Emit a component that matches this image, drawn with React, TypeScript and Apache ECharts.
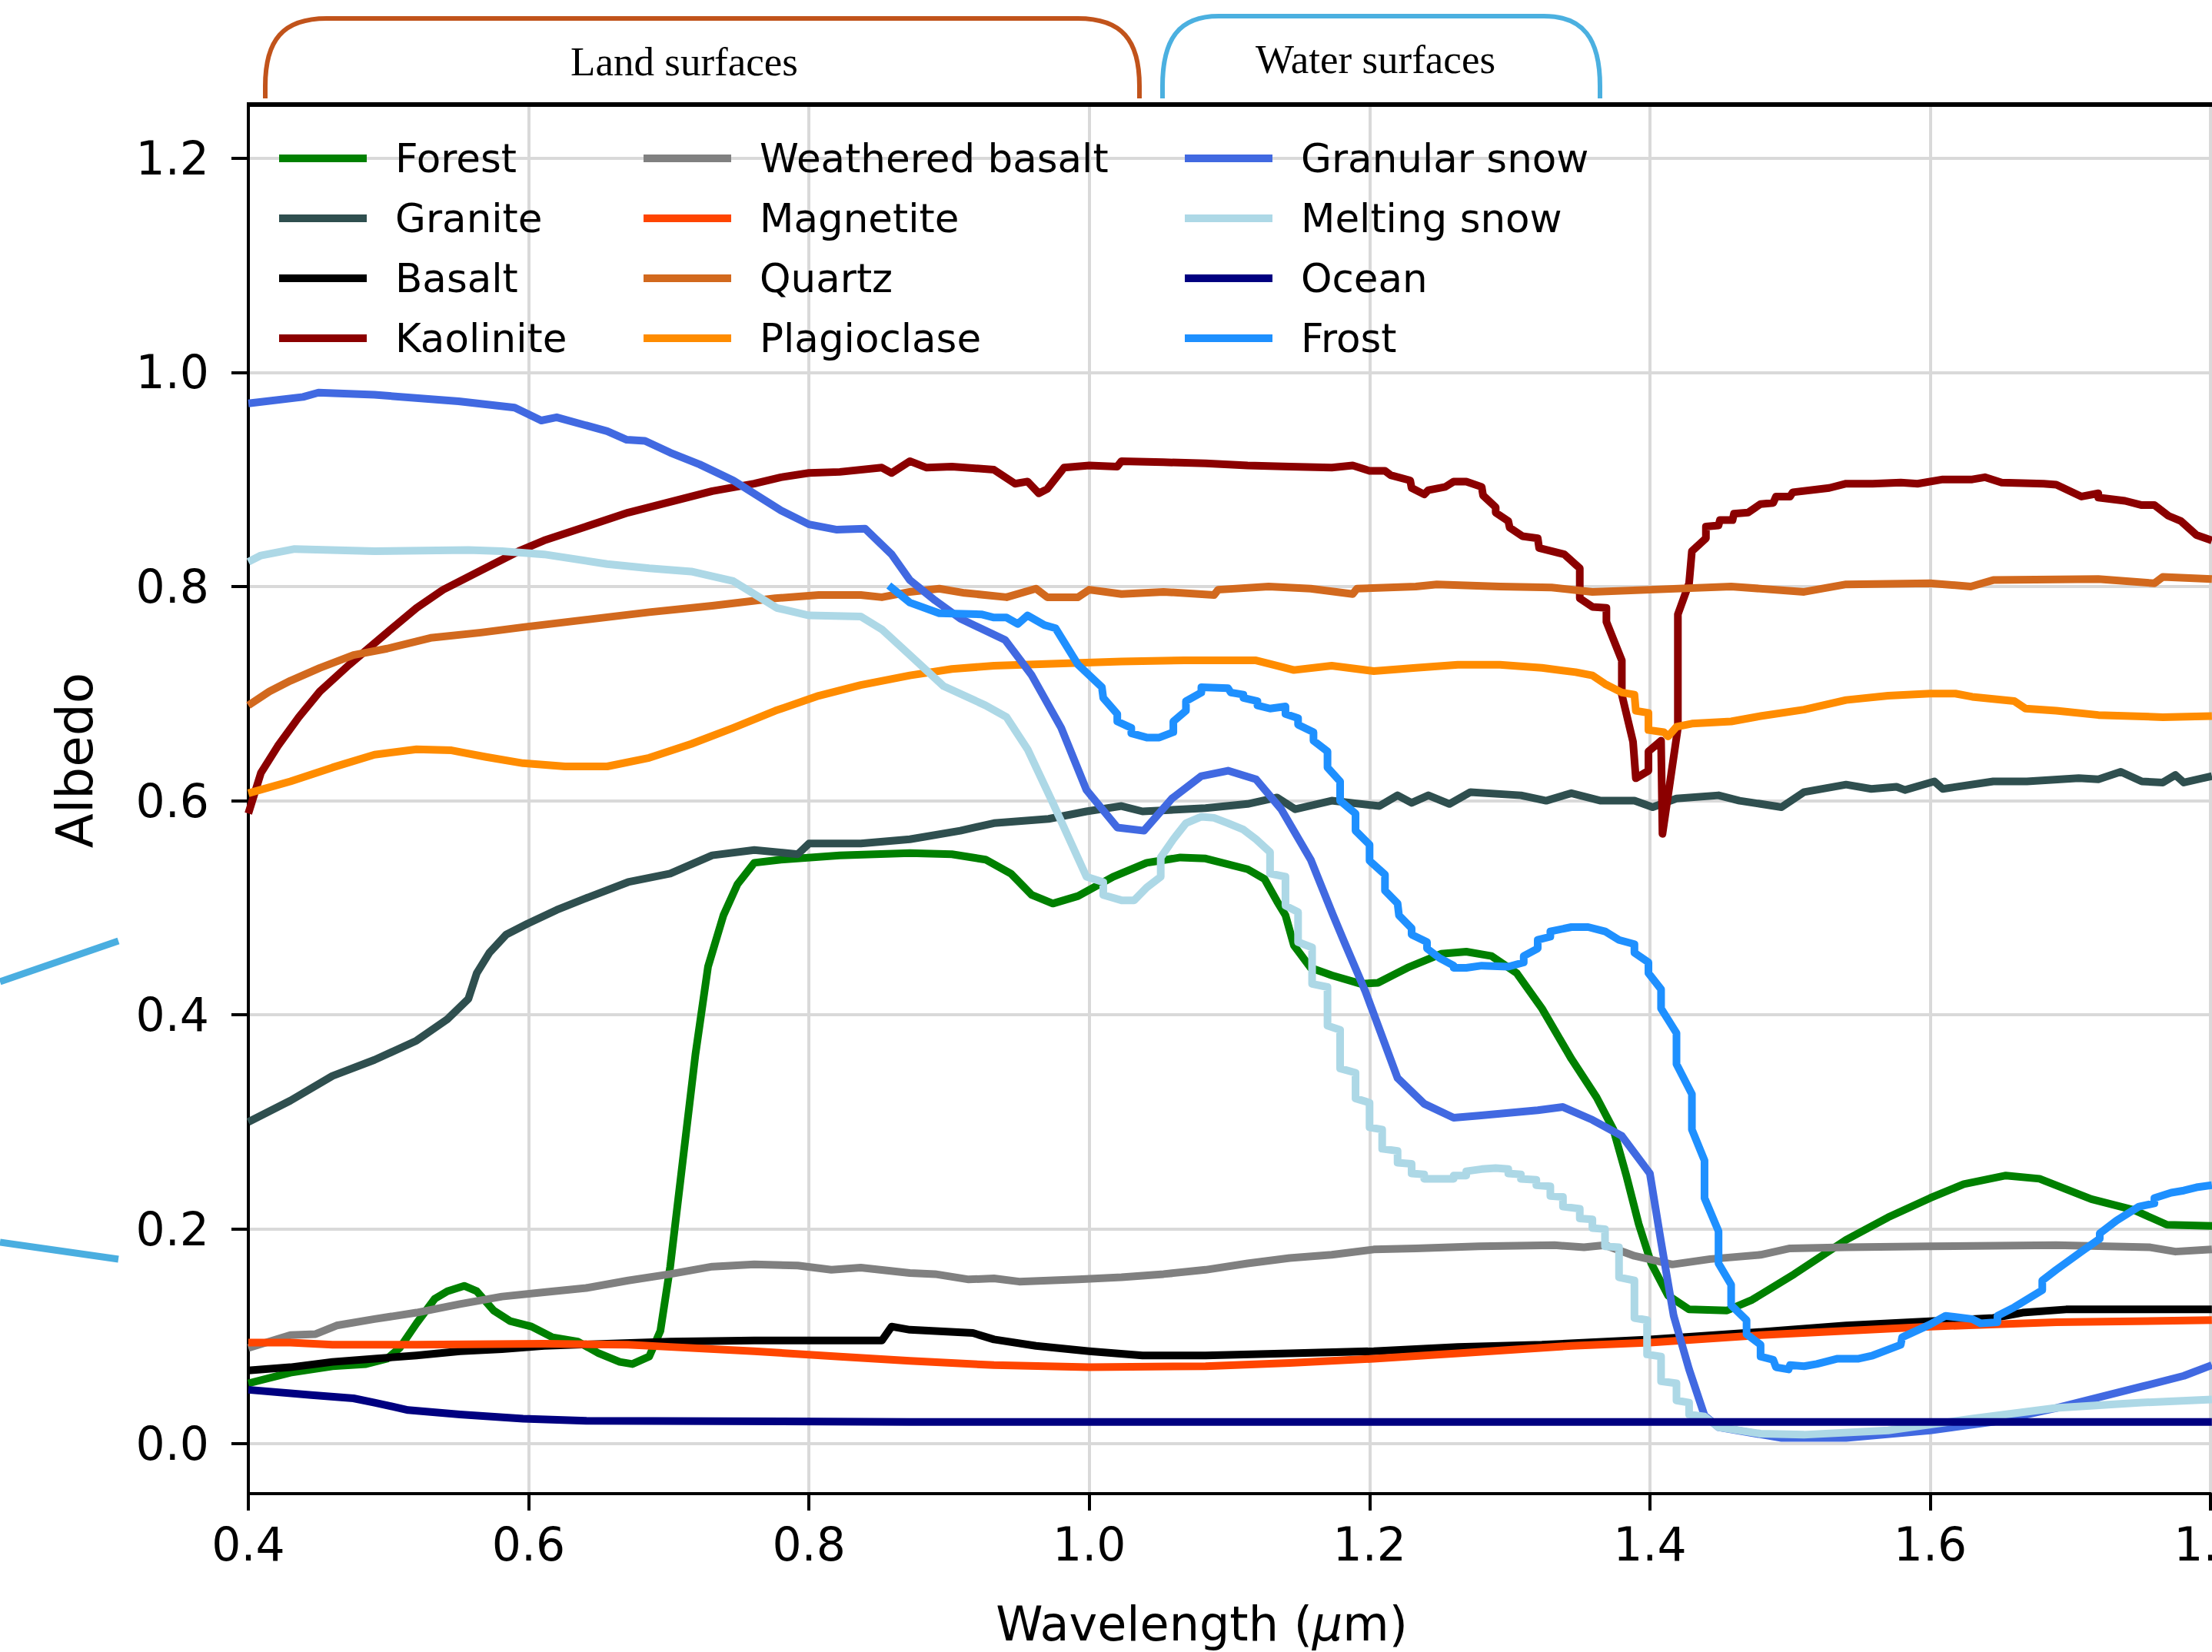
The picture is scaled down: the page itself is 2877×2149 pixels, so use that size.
import React, { useEffect, useRef } from 'react';
import * as echarts from 'echarts';

const W = 2877;
const H = 2149;

// ---------------- data (wavelength µm, albedo) ----------------
const forest = [[0.400,0.056],[0.430,0.066],[0.460,0.072],[0.484,0.074],[0.499,0.079],[0.508,0.089],[0.520,0.112],[0.533,0.135],[0.542,0.142],[0.554,0.147],[0.563,0.142],[0.575,0.124],[0.587,0.114],[0.602,0.109],[0.617,0.099],[0.635,0.095],[0.650,0.084],[0.665,0.076],[0.674,0.074],[0.686,0.081],[0.694,0.105],[0.701,0.165],[0.710,0.264],[0.719,0.363],[0.728,0.445],[0.739,0.493],[0.749,0.522],[0.761,0.542],[0.780,0.545],[0.822,0.549],[0.872,0.551],[0.902,0.550],[0.926,0.545],[0.944,0.532],[0.959,0.512],[0.974,0.504],[0.992,0.511],[1.017,0.529],[1.041,0.542],[1.065,0.547],[1.083,0.546],[1.113,0.536],[1.125,0.527],[1.134,0.506],[1.140,0.493],[1.146,0.465],[1.158,0.444],[1.173,0.437],[1.194,0.429],[1.206,0.430],[1.227,0.444],[1.251,0.457],[1.269,0.459],[1.287,0.455],[1.305,0.439],[1.323,0.406],[1.344,0.359],[1.362,0.323],[1.374,0.293],[1.383,0.251],[1.392,0.205],[1.401,0.168],[1.413,0.138],[1.428,0.125],[1.455,0.124],[1.473,0.134],[1.503,0.158],[1.540,0.190],[1.570,0.211],[1.600,0.229],[1.624,0.242],[1.654,0.250],[1.678,0.247],[1.715,0.228],[1.745,0.218],[1.769,0.204],[1.802,0.203]];

const granite = [[0.400,0.300],[0.430,0.320],[0.460,0.343],[0.490,0.358],[0.520,0.376],[0.542,0.396],[0.557,0.415],[0.563,0.439],[0.572,0.458],[0.584,0.475],[0.599,0.485],[0.620,0.498],[0.641,0.509],[0.671,0.524],[0.701,0.532],[0.731,0.549],[0.761,0.554],[0.792,0.550],[0.800,0.560],[0.837,0.560],[0.872,0.564],[0.908,0.572],[0.932,0.579],[0.971,0.583],[0.998,0.590],[1.023,0.595],[1.038,0.590],[1.083,0.593],[1.113,0.597],[1.134,0.603],[1.147,0.592],[1.173,0.600],[1.207,0.595],[1.220,0.605],[1.230,0.598],[1.242,0.605],[1.257,0.597],[1.272,0.608],[1.308,0.605],[1.326,0.600],[1.344,0.607],[1.365,0.600],[1.389,0.600],[1.402,0.594],[1.419,0.602],[1.449,0.605],[1.464,0.600],[1.494,0.594],[1.510,0.608],[1.540,0.615],[1.558,0.611],[1.576,0.613],[1.582,0.610],[1.603,0.618],[1.609,0.611],[1.645,0.618],[1.669,0.618],[1.706,0.621],[1.720,0.620],[1.736,0.627],[1.751,0.618],[1.766,0.617],[1.775,0.624],[1.781,0.617],[1.801,0.623]];

const basalt = [[0.400,0.068],[0.430,0.071],[0.460,0.076],[0.490,0.079],[0.520,0.082],[0.551,0.086],[0.581,0.088],[0.611,0.091],[0.656,0.093],[0.701,0.095],[0.761,0.096],[0.807,0.096],[0.852,0.096],[0.859,0.109],[0.872,0.106],[0.917,0.103],[0.932,0.097],[0.962,0.091],[1.000,0.086],[1.038,0.082],[1.083,0.082],[1.143,0.084],[1.203,0.086],[1.263,0.090],[1.323,0.092],[1.400,0.097],[1.479,0.104],[1.540,0.110],[1.600,0.114],[1.645,0.117],[1.666,0.122],[1.697,0.125],[1.751,0.125],[1.801,0.125]];

const kaolinite = [[0.400,0.588],[0.409,0.626],[0.421,0.651],[0.436,0.678],[0.451,0.702],[0.472,0.727],[0.499,0.757],[0.520,0.780],[0.539,0.797],[0.566,0.815],[0.593,0.833],[0.611,0.843],[0.641,0.856],[0.671,0.869],[0.701,0.879],[0.731,0.889],[0.761,0.896],[0.780,0.902],[0.800,0.906],[0.822,0.907],[0.852,0.911],[0.859,0.906],[0.872,0.917],[0.884,0.911],[0.902,0.912],[0.932,0.909],[0.947,0.896],[0.956,0.898],[0.964,0.887],[0.970,0.891],[0.982,0.911],[1.000,0.913],[1.020,0.912],[1.023,0.917],[1.053,0.916],[1.083,0.915],[1.113,0.913],[1.143,0.912],[1.173,0.911],[1.188,0.913],[1.200,0.908],[1.211,0.908],[1.215,0.904],[1.229,0.899],[1.230,0.892],[1.239,0.886],[1.242,0.890],[1.254,0.893],[1.260,0.898],[1.269,0.898],[1.280,0.893],[1.281,0.885],[1.290,0.874],[1.290,0.869],[1.299,0.861],[1.300,0.855],[1.309,0.847],[1.320,0.845],[1.321,0.836],[1.339,0.830],[1.350,0.817],[1.350,0.789],[1.359,0.781],[1.369,0.780],[1.369,0.767],[1.380,0.731],[1.380,0.699],[1.388,0.655],[1.390,0.621],[1.399,0.628],[1.399,0.646],[1.408,0.656],[1.409,0.569],[1.420,0.668],[1.420,0.774],[1.428,0.803],[1.430,0.833],[1.440,0.845],[1.440,0.856],[1.449,0.857],[1.450,0.862],[1.459,0.862],[1.460,0.868],[1.470,0.869],[1.479,0.877],[1.488,0.878],[1.490,0.884],[1.500,0.884],[1.502,0.888],[1.528,0.892],[1.540,0.896],[1.559,0.896],[1.579,0.897],[1.591,0.896],[1.609,0.900],[1.630,0.900],[1.639,0.902],[1.651,0.897],[1.681,0.896],[1.690,0.895],[1.708,0.884],[1.720,0.887],[1.720,0.883],[1.739,0.880],[1.751,0.876],[1.760,0.876],[1.770,0.866],[1.779,0.861],[1.790,0.848],[1.801,0.843]];

const weatheredBasalt = [[0.400,0.089],[0.430,0.101],[0.448,0.102],[0.463,0.110],[0.490,0.116],[0.520,0.122],[0.551,0.130],[0.581,0.137],[0.611,0.141],[0.641,0.145],[0.671,0.152],[0.701,0.158],[0.731,0.165],[0.761,0.167],[0.792,0.166],[0.816,0.162],[0.837,0.164],[0.872,0.159],[0.890,0.158],[0.914,0.153],[0.932,0.154],[0.950,0.151],[0.992,0.153],[1.023,0.155],[1.053,0.158],[1.083,0.162],[1.113,0.168],[1.143,0.173],[1.173,0.176],[1.203,0.181],[1.233,0.182],[1.278,0.184],[1.332,0.185],[1.353,0.183],[1.368,0.185],[1.389,0.175],[1.416,0.167],[1.443,0.172],[1.479,0.176],[1.500,0.182],[1.540,0.183],[1.600,0.184],[1.690,0.185],[1.757,0.183],[1.775,0.179],[1.801,0.181]];

const magnetite = [[0.400,0.094],[0.430,0.094],[0.460,0.092],[0.520,0.092],[0.611,0.093],[0.671,0.092],[0.701,0.090],[0.761,0.086],[0.822,0.081],[0.872,0.077],[0.932,0.073],[1.000,0.071],[1.083,0.072],[1.143,0.075],[1.203,0.079],[1.263,0.084],[1.344,0.091],[1.400,0.094],[1.479,0.101],[1.600,0.109],[1.690,0.113],[1.801,0.115]];

const quartz = [[0.400,0.689],[0.415,0.702],[0.430,0.712],[0.451,0.724],[0.475,0.736],[0.499,0.742],[0.530,0.752],[0.566,0.757],[0.596,0.762],[0.641,0.769],[0.686,0.776],[0.731,0.782],[0.776,0.789],[0.807,0.792],[0.837,0.792],[0.852,0.790],[0.872,0.795],[0.893,0.798],[0.911,0.794],[0.941,0.790],[0.962,0.798],[0.970,0.790],[0.992,0.790],[1.000,0.797],[1.023,0.793],[1.053,0.795],[1.089,0.792],[1.092,0.797],[1.128,0.800],[1.158,0.798],[1.188,0.793],[1.191,0.798],[1.233,0.800],[1.248,0.802],[1.293,0.800],[1.330,0.799],[1.359,0.795],[1.400,0.797],[1.458,0.800],[1.510,0.795],[1.540,0.802],[1.600,0.803],[1.629,0.800],[1.645,0.806],[1.720,0.807],[1.760,0.803],[1.766,0.809],[1.801,0.807]];

const plagioclase = [[0.400,0.607],[0.430,0.618],[0.460,0.631],[0.490,0.643],[0.520,0.648],[0.545,0.647],[0.569,0.641],[0.596,0.635],[0.626,0.632],[0.656,0.632],[0.686,0.640],[0.716,0.653],[0.746,0.668],[0.776,0.684],[0.807,0.698],[0.837,0.708],[0.872,0.717],[0.902,0.723],[0.932,0.726],[0.977,0.728],[1.023,0.730],[1.068,0.731],[1.119,0.731],[1.131,0.727],[1.146,0.722],[1.173,0.726],[1.203,0.721],[1.233,0.724],[1.263,0.727],[1.293,0.727],[1.323,0.724],[1.347,0.720],[1.359,0.717],[1.368,0.709],[1.380,0.701],[1.389,0.699],[1.390,0.684],[1.399,0.682],[1.399,0.666],[1.410,0.664],[1.413,0.660],[1.419,0.669],[1.430,0.672],[1.458,0.674],[1.479,0.679],[1.510,0.685],[1.540,0.694],[1.570,0.698],[1.600,0.700],[1.618,0.700],[1.630,0.697],[1.660,0.693],[1.668,0.686],[1.690,0.684],[1.720,0.680],[1.766,0.678],[1.801,0.679]];

const granularSnow = [[0.400,0.971],[0.439,0.977],[0.450,0.981],[0.490,0.979],[0.550,0.973],[0.590,0.967],[0.609,0.955],[0.620,0.958],[0.656,0.945],[0.670,0.937],[0.683,0.936],[0.701,0.925],[0.722,0.914],[0.746,0.899],[0.780,0.871],[0.800,0.858],[0.820,0.853],[0.840,0.854],[0.859,0.830],[0.872,0.806],[0.890,0.787],[0.908,0.770],[0.940,0.750],[0.959,0.717],[0.980,0.668],[0.998,0.610],[1.020,0.575],[1.039,0.572],[1.059,0.602],[1.080,0.623],[1.099,0.628],[1.119,0.620],[1.137,0.592],[1.158,0.545],[1.174,0.493],[1.182,0.468],[1.197,0.422],[1.220,0.341],[1.239,0.317],[1.260,0.304],[1.278,0.306],[1.320,0.311],[1.338,0.314],[1.359,0.302],[1.380,0.287],[1.400,0.252],[1.408,0.188],[1.417,0.119],[1.428,0.069],[1.439,0.026],[1.449,0.015],[1.494,0.005],[1.540,0.005],[1.600,0.012],[1.645,0.020],[1.690,0.033],[1.751,0.053],[1.781,0.063],[1.801,0.073]];

const meltingSnow = [[0.400,0.823],[0.409,0.829],[0.433,0.835],[0.490,0.833],[0.557,0.834],[0.581,0.833],[0.611,0.830],[0.656,0.821],[0.686,0.817],[0.716,0.814],[0.746,0.805],[0.777,0.780],[0.800,0.773],[0.837,0.772],[0.852,0.760],[0.872,0.736],[0.896,0.707],[0.926,0.689],[0.941,0.678],[0.956,0.648],[0.974,0.598],[0.998,0.529],[1.010,0.524],[1.010,0.512],[1.023,0.507],[1.032,0.507],[1.041,0.519],[1.051,0.529],[1.051,0.547],[1.060,0.564],[1.069,0.579],[1.080,0.585],[1.089,0.584],[1.099,0.579],[1.110,0.573],[1.119,0.564],[1.129,0.552],[1.129,0.532],[1.140,0.529],[1.140,0.502],[1.149,0.496],[1.149,0.468],[1.159,0.463],[1.159,0.429],[1.170,0.426],[1.170,0.390],[1.179,0.386],[1.179,0.350],[1.190,0.346],[1.190,0.322],[1.200,0.318],[1.200,0.295],[1.209,0.293],[1.209,0.275],[1.220,0.273],[1.220,0.262],[1.230,0.261],[1.230,0.252],[1.239,0.251],[1.239,0.247],[1.260,0.247],[1.260,0.250],[1.269,0.250],[1.269,0.254],[1.280,0.256],[1.290,0.257],[1.299,0.256],[1.299,0.252],[1.308,0.251],[1.308,0.247],[1.319,0.246],[1.319,0.241],[1.329,0.240],[1.329,0.231],[1.338,0.230],[1.338,0.221],[1.350,0.219],[1.350,0.210],[1.359,0.209],[1.359,0.201],[1.368,0.200],[1.368,0.184],[1.378,0.183],[1.378,0.155],[1.389,0.152],[1.389,0.117],[1.398,0.115],[1.398,0.083],[1.408,0.081],[1.408,0.058],[1.419,0.056],[1.419,0.040],[1.428,0.038],[1.428,0.027],[1.439,0.025],[1.449,0.015],[1.479,0.009],[1.510,0.008],[1.570,0.012],[1.630,0.023],[1.690,0.033],[1.751,0.038],[1.801,0.041]];

const ocean = [[0.400,0.050],[0.445,0.045],[0.475,0.042],[0.490,0.038],[0.514,0.031],[0.551,0.027],[0.596,0.023],[0.641,0.021],[0.872,0.020],[1.400,0.020],[1.801,0.020]];

const frost = [[0.857,0.801],[0.872,0.785],[0.893,0.775],[0.923,0.774],[0.932,0.771],[0.941,0.771],[0.949,0.765],[0.956,0.773],[0.968,0.764],[0.976,0.761],[0.992,0.727],[1.009,0.706],[1.010,0.696],[1.020,0.681],[1.020,0.674],[1.030,0.668],[1.030,0.663],[1.041,0.659],[1.050,0.659],[1.060,0.664],[1.060,0.674],[1.069,0.684],[1.069,0.693],[1.080,0.701],[1.080,0.706],[1.099,0.705],[1.101,0.701],[1.110,0.699],[1.110,0.696],[1.120,0.693],[1.120,0.689],[1.129,0.686],[1.140,0.688],[1.140,0.681],[1.149,0.677],[1.149,0.671],[1.160,0.664],[1.160,0.656],[1.170,0.646],[1.170,0.631],[1.179,0.618],[1.179,0.600],[1.190,0.588],[1.190,0.572],[1.200,0.559],[1.200,0.544],[1.211,0.531],[1.211,0.516],[1.220,0.504],[1.221,0.493],[1.230,0.481],[1.230,0.475],[1.241,0.468],[1.241,0.462],[1.250,0.453],[1.260,0.446],[1.260,0.444],[1.269,0.444],[1.280,0.446],[1.299,0.445],[1.310,0.449],[1.310,0.455],[1.320,0.462],[1.320,0.470],[1.329,0.473],[1.329,0.478],[1.344,0.482],[1.356,0.482],[1.368,0.478],[1.378,0.470],[1.389,0.466],[1.389,0.458],[1.399,0.449],[1.399,0.439],[1.408,0.424],[1.408,0.406],[1.419,0.383],[1.419,0.354],[1.430,0.326],[1.430,0.293],[1.439,0.264],[1.439,0.229],[1.449,0.198],[1.449,0.168],[1.458,0.148],[1.458,0.129],[1.469,0.115],[1.469,0.102],[1.479,0.092],[1.479,0.081],[1.488,0.078],[1.490,0.071],[1.499,0.069],[1.500,0.073],[1.510,0.072],[1.519,0.074],[1.534,0.079],[1.549,0.079],[1.559,0.082],[1.579,0.092],[1.580,0.099],[1.600,0.111],[1.611,0.119],[1.630,0.116],[1.636,0.112],[1.648,0.113],[1.648,0.119],[1.660,0.127],[1.680,0.143],[1.680,0.152],[1.690,0.162],[1.709,0.180],[1.721,0.191],[1.721,0.196],[1.733,0.208],[1.749,0.221],[1.760,0.224],[1.760,0.229],[1.772,0.234],[1.781,0.236],[1.790,0.239],[1.801,0.241]];

const seriesNames = ['Forest', 'Granite', 'Basalt', 'Kaolinite', 'Weathered basalt', 'Magnetite', 'Quartz', 'Plagioclase', 'Granular snow', 'Melting snow', 'Ocean', 'Frost'];
const seriesData = [forest, granite, basalt, kaolinite, weatheredBasalt, magnetite, quartz, plagioclase, granularSnow, meltingSnow, ocean, frost];
const seriesColors = ['#008000', '#2F4F4F', '#000000', '#8B0000', '#808080', '#FF4500', '#D2691E', '#FF8C00', '#4169E1', '#ADD8E6', '#000080', '#1E90FF'];

const yTicks = [0, 0.2, 0.4, 0.6, 0.8, 1.0, 1.2];
const legendColumns = [[0, 1, 2, 3], [4, 5, 6, 7], [8, 9, 10, 11]];
const bracketLabels = ['Land surfaces', 'Water surfaces'];
const xTitle = 'Wavelength (';
const yTitle = 'Albedo';

// ---------------- shapes ----------------
const LAND_PATH = 'M345,128 L345,112 C345,52 368,24 425,24 L1402,24 C1459,24 1482,52 1482,112 L1482,128';
const WATER_PATH = 'M1512,128 L1512,112 C1512,50 1534,21 1585,21 L2008,21 C2059,21 2081,50 2081,112 L2081,128';
echarts.graphic.registerShape('landBracket', echarts.graphic.extendPath(LAND_PATH, {}));
echarts.graphic.registerShape('waterBracket', echarts.graphic.extendPath(WATER_PATH, {}));

const FONT = 'DejaVu Sans';

export default function App() {
  const ref = useRef<HTMLDivElement>(null);
  useEffect(() => {
    document.body.style.margin = '0';
    const chart = echarts.init(ref.current as HTMLDivElement, null, { renderer: 'svg', width: W, height: H });
    const legendLeft = [363, 837, 1541];
    const option: any = {
      animation: false,
      backgroundColor: '#ffffff',
      grid: {
        left: 323, top: 136, right: 2, bottom: 206,
        show: true, borderColor: '#000', borderWidth: 4, backgroundColor: 'transparent',
        containLabel: false, outerBoundsMode: 'none',
      },
      xAxis: {
        type: 'value', min: 0.4, max: 1.8, interval: 0.2,
        axisLine: { show: true, onZero: false, lineStyle: { color: '#000', width: 4 } },
        axisTick: { show: true, length: 22, lineStyle: { color: '#000', width: 4 } },
        axisLabel: {
          show: true, margin: 36, fontSize: 60, fontFamily: FONT, color: '#000',
          formatter: (v: number) => v.toFixed(1), showMaxLabel: true, showMinLabel: true,
        },
        splitLine: { show: true, lineStyle: { color: '#d9d9d9', width: 4 } },
      },
      yAxis: {
        type: 'value', min: -0.047, max: 1.25,
        axisLine: { show: true, onZero: false, lineStyle: { color: '#000', width: 4 } },
        axisTick: { show: true, length: 22, lineStyle: { color: '#000', width: 4 }, customValues: yTicks },
        axisLabel: {
          show: true, margin: 51, fontSize: 60, fontFamily: FONT, color: '#000',
          customValues: yTicks, formatter: (v: number) => v.toFixed(1),
        },
        splitLine: { show: true, lineStyle: { color: '#d9d9d9', width: 4 } },
      },
      legend: legendColumns.map((idx, c) => ({
        show: true, orient: 'vertical', left: legendLeft[c], top: 180, padding: 0,
        itemWidth: 114, itemHeight: 10, itemGap: 26, icon: 'rect',
        selectedMode: false,
        itemStyle: { borderWidth: 0 },
        data: idx.map((i) => seriesNames[i]),
        textStyle: { fontSize: 51.5, fontFamily: FONT, color: '#000', lineHeight: 50, padding: [0, 0, 0, 32] },
      })),
      series: seriesNames.map((name, i) => ({
        name, type: 'line', data: seriesData[i], showSymbol: false, symbol: 'none',
        color: seriesColors[i], clip: true,
        lineStyle: { color: seriesColors[i], width: 10, join: 'round' },
        emphasis: { disabled: true }, z: 2 + i * 0.01,
      })),
      graphic: [
        { type: 'line', shape: { x1: 321, y1: 136, x2: 2877, y2: 136 }, style: { stroke: '#000', lineWidth: 6 }, z: 100 },
        { type: 'landBracket', x: 0, y: 0, style: { fill: 'none', stroke: '#C1531B', lineWidth: 6 } },
        { type: 'waterBracket', x: 0, y: 0, style: { fill: 'none', stroke: '#4BB0E0', lineWidth: 6 } },
        { type: 'text', x: 890, y: 80, style: { text: bracketLabels[0], fontSize: 53, fontFamily: 'Liberation Serif', fill: '#000', align: 'center', verticalAlign: 'middle' } },
        { type: 'text', x: 1789, y: 77, style: { text: bracketLabels[1], fontSize: 53, fontFamily: 'Liberation Serif', fill: '#000', align: 'center', verticalAlign: 'middle' } },
        { type: 'line', shape: { x1: 0, y1: 1277, x2: 154, y2: 1224 }, style: { stroke: '#4AAEE0', lineWidth: 9 } },
        { type: 'line', shape: { x1: 0, y1: 1616, x2: 154, y2: 1638 }, style: { stroke: '#4AAEE0', lineWidth: 9 } },
        {
          type: 'text', x: 97, y: 989, rotation: Math.PI / 2,
          style: { text: yTitle, fontSize: 66, fontFamily: FONT, fill: '#000', align: 'center', verticalAlign: 'middle' },
        },
        {
          type: 'text', x: 1563, y: 2112,
          style: {
            text: '{a|' + xTitle + '}{b|μ}{a|m)}',
            align: 'center', verticalAlign: 'middle',
            rich: {
              a: { fontSize: 62, fontFamily: FONT, fill: '#000' },
              b: { fontSize: 62, fontFamily: FONT, fontStyle: 'italic', fill: '#000' },
            },
          },
        },
      ],
    };
    chart.setOption(option);
    return () => chart.dispose();
  }, []);
  return <div ref={ref} style={{ position: 'absolute', left: 0, top: 0, width: W, height: H }} />;
}
